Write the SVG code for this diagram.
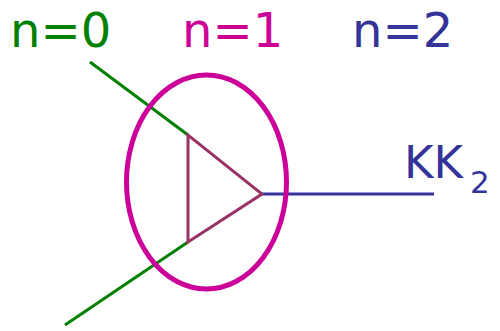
<svg xmlns="http://www.w3.org/2000/svg" width="500" height="331" viewBox="0 0 500 331">
<style>
text{font-family:"DejaVu Sans",Verdana,sans-serif}
.g{stroke:#008000;stroke-width:3;fill:none}
.b{stroke:#333399;stroke-width:3;fill:none}
</style>
<rect width="500" height="331" fill="#fff"/>
<g id="labels">
<text x="10" y="47" font-size="48" fill="#008000">n=0</text>
<text x="182" y="47" font-size="48" fill="#cc0099">n=1</text>
<text x="352" y="47" font-size="48" fill="#333399">n=2</text>
</g>
<g id="connectors">
<line class="g" x1="90" y1="62" x2="188" y2="135"/>
<line class="g" x1="188" y1="242" x2="65" y2="325"/>
<line class="b" x1="262" y1="194" x2="434" y2="194"/>
</g>
<g id="vertex">
<ellipse cx="206.5" cy="182" rx="80" ry="107" fill="none" stroke="#cc0099" stroke-width="5"/>
<polygon points="188,135 188,242 262,194" fill="none" stroke="#993366" stroke-width="3"/>
</g>
<g id="kk2">
<text x="404" y="178" font-size="45" fill="#333399">KK<tspan font-size="31" dx="7" dy="15">2</tspan></text>
</g>
</svg>
